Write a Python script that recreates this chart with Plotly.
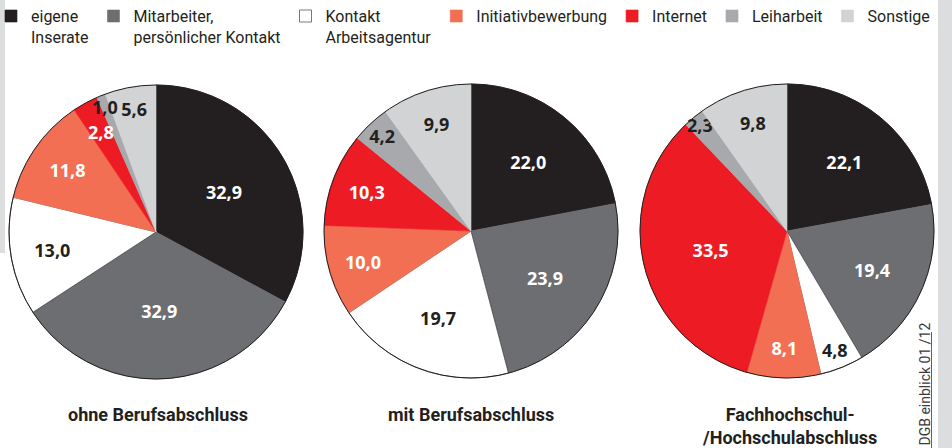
import math
import plotly.graph_objects as go

labels = ["eigene<br>Inserate", "Mitarbeiter,<br>persönlicher Kontakt", "Kontakt<br>Arbeitsagentur",
          "Initiativbewerbung", "Internet", "Leiharbeit", "Sonstige"]
colors = ["#231f20", "#6d6e71", "#ffffff", "#f26f53", "#ed1c24", "#a7a9ac", "#d1d3d4"]
text_colors = ["#ffffff", "#ffffff", "#231f20", "#ffffff", "#ffffff", "#231f20", "#231f20"]

ohne = [32.9, 32.9, 13.0, 11.8, 2.8, 1.0, 5.6]
mit = [22.0, 23.9, 19.7, 10.0, 10.3, 4.2, 9.9]
hochschule = [22.1, 19.4, 4.8, 8.1, 33.5, 2.3, 9.8]

groups = ["ohne Berufsabschluss", "mit Berufsabschluss", "Fachhochschul-<br>/Hochschulabschluss"]
series = [ohne, mit, hochschule]
source = "DGB einblick 01 /12"

W, H = 952, 448
# pie boxes in pixels (left, top, size)
boxes = [(9, 85, 294), (324, 84, 294), (640, 84, 294)]
# slices whose labels are placed as annotations (series index -> {slice index: radius fraction})
free_labels = {0: {4: 0.78, 5: 0.92}}

line_colors = [c if c != "#ffffff" else "#231f20" for c in colors]
label_font = dict(family="Open Sans", size=18, weight="bold")

fig = go.Figure()
for k, ((l, t, s), vals) in enumerate(zip(boxes, series)):
    dom = dict(x=[l / W, (l + s) / W], y=[(H - t - s) / H, (H - t) / H])
    special = free_labels.get(k, {})
    templates = ["" if i in special else "%{value:.1f}" for i in range(len(vals))]
    fig.add_trace(go.Pie(
        labels=labels, values=vals, sort=False, direction="clockwise", rotation=0,
        marker=dict(colors=colors, line=dict(color=line_colors, width=0.6)),
        texttemplate=templates, textposition="inside",
        insidetextorientation="horizontal",
        textfont=dict(color=text_colors, **label_font),
        domain=dom, hoverinfo="label+value",
    ))
    fig.add_trace(go.Pie(
        labels=["Umriss"], values=[1], sort=False, showlegend=False,
        marker=dict(colors=["rgba(0,0,0,0)"], line=dict(color="#231f20", width=1)),
        textinfo="none", hoverinfo="skip", domain=dom,
    ))
    # labels of very small slices, placed from the slice mid-angle
    total = sum(vals)
    cx, cy, r = l + s / 2, t + s / 2, s / 2
    for i, f in special.items():
        mid = (sum(vals[:i]) + vals[i] / 2) / total * 2 * math.pi
        px = cx + r * f * math.sin(mid)
        py = cy - r * f * math.cos(mid)
        fig.add_annotation(x=px / W, y=1 - py / H, xref="paper", yref="paper",
                           text=f"{vals[i]:.1f}".replace(".", ","), showarrow=False,
                           xanchor="center", yanchor="middle",
                           font=dict(color=text_colors[i], **label_font))

# group titles
centers = [158, 471, 789]
for cx, g in zip(centers, groups):
    fig.add_annotation(x=cx / W, y=(H - 402) / H, xref="paper", yref="paper",
                       text="<b>" + g + "</b>", showarrow=False, xanchor="center", yanchor="top",
                       font=dict(family="Roboto", size=18, color="#231f20"))

# side strips
fig.add_shape(type="rect", xref="paper", yref="paper", x0=938 / W, x1=1, y0=0, y1=1,
              fillcolor="#dcdddf", line=dict(width=0), layer="below")
fig.add_shape(type="rect", xref="paper", yref="paper", x0=0, x1=5 / W, y0=(H - 253) / H, y1=1,
              fillcolor="#dcdddf", line=dict(width=0), layer="below")
# source
fig.add_annotation(x=924 / W, y=0, xref="paper", yref="paper", text=source, textangle=-90,
                   showarrow=False, xanchor="center", yanchor="bottom",
                   font=dict(family="Roboto", size=14, color="#3a3a3a"))
fig.add_shape(type="line", xref="paper", yref="paper", x0=931.5 / W, x1=931.5 / W,
              y0=0, y1=(H - 332) / H, line=dict(color="#3a3a3a", width=0.8))

fig.update_layout(
    width=W, height=H, margin=dict(l=0, r=0, t=0, b=0, autoexpand=False),
    paper_bgcolor="#ffffff", plot_bgcolor="#ffffff",
    separators=",.",
    uniformtext=dict(minsize=18, mode="show"),
    legend=dict(orientation="h", x=-9 / W, y=1.002, xanchor="left", yanchor="top",
                valign="top", itemwidth=30,
                font=dict(family="Roboto", size=16, color="#231f20"),
                bgcolor="rgba(0,0,0,0)"),
)

fig.write_html("out.html", config={"displayModeBar": False},
               post_script="document.body.style.margin='0';")
